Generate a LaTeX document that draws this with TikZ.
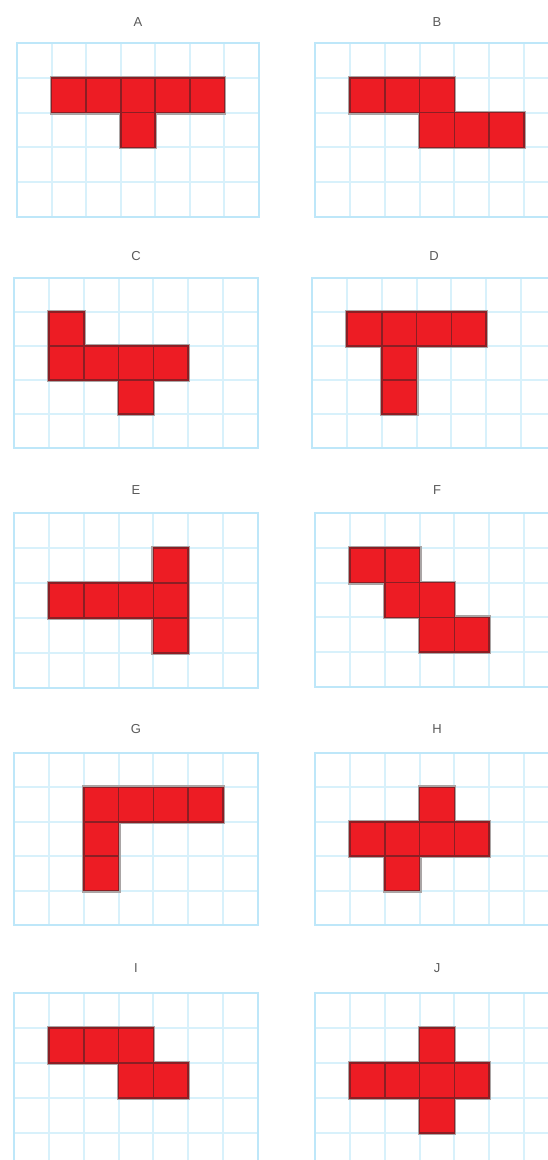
\documentclass[tikz,border=0pt]{standalone}
\usepackage{fontspec}
\setmainfont{Liberation Sans}
\definecolor{gridc}{RGB}{216,241,251}
\definecolor{framec}{RGB}{190,231,249}
\definecolor{redc}{RGB}{237,28,36}
\definecolor{edgec}{RGB}{140,30,36}
\definecolor{haloc}{RGB}{170,165,165}
\definecolor{textc}{RGB}{90,90,90}
\tikzset{
  gridline/.style={draw=gridc, line width=2pt},
  gridframe/.style={draw=framec, line width=2.6pt},
  cellhalo/.style={fill=haloc},
  cellbox/.style={fill=redc, draw=edgec, line width=1.6pt},
  paneltitle/.style={text=textc, font=\fontsize{13}{15}\selectfont, inner sep=0pt, anchor=center}
}
\newcommand{\drawpanel}[8]{%
  \pgfmathsetmacro{\cw}{(#3-#1)/7}%
  \pgfmathsetmacro{\ch}{(#4-#2)/5}%
  \foreach \i in {1,...,6} \draw[gridline] ({#1+\i*\cw},#2) -- ({#1+\i*\cw},#4);%
  \foreach \j in {1,...,4} \draw[gridline] (#1,{#2+\j*\ch}) -- (#3,{#2+\j*\ch});%
  \draw[gridframe] (#1,#2) rectangle (#3,#4);%
  \foreach \c/\r in {#8} \fill[cellhalo] ({#1+\c*\cw-2},{#2+\r*\ch-2}) rectangle ++({\cw+4},{\ch+4});%
  \foreach \c/\r in {#8} \draw[cellbox] ({#1+\c*\cw},{#2+\r*\ch}) rectangle ++(\cw,\ch);%
  \node[paneltitle] (#5) at ({(#1+#3)/2},#7) {#6};%
}
\begin{document}
\begin{tikzpicture}[x=1pt,y=-1pt]
\useasboundingbox[fill=white] (0,0) rectangle (547,1160);
% row 1
\drawpanel{17}{43}{259}{217}{tA}{A}{22}{1/1,2/1,3/1,4/1,5/1,3/2}
\drawpanel{315}{43}{559}{217}{tB}{B}{22}{1/1,2/1,3/1,3/2,4/2,5/2}
% row 2
\drawpanel{14}{278}{258}{448}{tC}{C}{256}{1/1,1/2,2/2,3/2,4/2,3/3}
\drawpanel{312}{278}{556}{448}{tD}{D}{256}{1/1,2/1,3/1,4/1,2/2,2/3}
% row 3
\drawpanel{14}{513}{258}{688}{tE}{E}{490}{4/1,1/2,2/2,3/2,4/2,4/3}
\drawpanel{315}{513}{559}{687}{tF}{F}{490}{1/1,2/1,2/2,3/2,3/3,4/3}
% row 4
\drawpanel{14}{753}{258}{925}{tG}{G}{729}{2/1,3/1,4/1,5/1,2/2,2/3}
\drawpanel{315}{753}{559}{925}{tH}{H}{729}{3/1,1/2,2/2,3/2,4/2,2/3}
% row 5
\drawpanel{14}{993}{258}{1168}{tI}{I}{968}{1/1,2/1,3/1,3/2,4/2}
\drawpanel{315}{993}{559}{1168}{tJ}{J}{968}{3/1,1/2,2/2,3/2,4/2,3/3}
\end{tikzpicture}
\end{document}
